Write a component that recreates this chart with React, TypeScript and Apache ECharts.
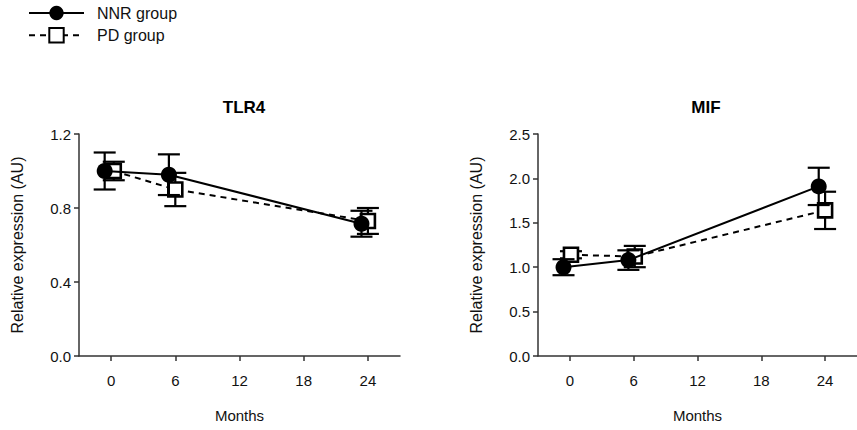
import React, { useEffect, useRef } from "react";
import * as echarts from "echarts";

const monthTicks = [0, 6, 12, 18, 24];
const groupNames = ["NNR group", "PD group"];
const panelTitles = ["TLR4", "MIF"];

// plotted x positions (slightly offset as in the figure)
const tlr4NnrX = [-0.6, 5.4, 23.4];
const tlr4NnrY = [1.0, 0.98, 0.715];
const tlr4NnrErr = [0.1, 0.11, 0.07];
const tlr4PdX = [0.25, 6.0, 24.0];
const tlr4PdY = [1.0, 0.9, 0.73];
const tlr4PdErr = [0.05, 0.09, 0.07];

const mifNnrX = [-0.6, 5.5, 23.4];
const mifNnrY = [1.0, 1.08, 1.91];
const mifNnrErr = [0.09, 0.11, 0.21];
const mifPdX = [0.1, 6.1, 24.0];
const mifPdY = [1.14, 1.12, 1.64];
const mifPdErr = [0.04, 0.12, 0.21];

const yTicksLeft = { max: 1.2, interval: 0.4 };
const yTicksRight = { max: 2.5, interval: 0.5 };

const FONT = "Liberation Sans, Arial, sans-serif";

function pts(xs: number[], ys: number[]) {
  return xs.map((x, i) => [x, ys[i]]);
}
function errPts(xs: number[], ys: number[], es: number[]) {
  return xs.map((x, i) => [x, ys[i] - es[i], ys[i] + es[i]]);
}

function errorSeries(data: number[][], idx: number, z: number) {
  return {
    type: "custom",
    xAxisIndex: idx,
    yAxisIndex: idx,
    z,
    silent: true,
    encode: { x: 0, y: [1, 2] },
    data,
    renderItem: (params: any, api: any) => {
      const x = api.value(0);
      const lo = api.coord([x, api.value(1)]);
      const hi = api.coord([x, api.value(2)]);
      const w = 11;
      const style = { stroke: "#000", lineWidth: 2.2 };
      return {
        type: "group",
        children: [
          { type: "line", shape: { x1: lo[0], y1: lo[1], x2: hi[0], y2: hi[1] }, style },
          { type: "line", shape: { x1: lo[0] - w, y1: lo[1], x2: lo[0] + w, y2: lo[1] }, style },
          { type: "line", shape: { x1: hi[0] - w, y1: hi[1], x2: hi[0] + w, y2: hi[1] }, style },
        ],
      };
    },
  };
}

function nnrLine(data: number[][], idx: number) {
  return {
    name: groupNames[0],
    type: "line",
    xAxisIndex: idx,
    yAxisIndex: idx,
    z: 5,
    data,
    symbol: "circle",
    symbolSize: 16,
    itemStyle: { color: "#000" },
    lineStyle: { color: "#000", width: 2, type: "solid" },
  };
}

function pdLine(data: number[][], idx: number) {
  return {
    name: groupNames[1],
    type: "line",
    xAxisIndex: idx,
    yAxisIndex: idx,
    z: 3,
    data,
    symbol: "rect",
    symbolSize: 14,
    itemStyle: { color: "#fff", borderColor: "#000", borderWidth: 2.6 },
    lineStyle: { color: "#000", width: 2, type: [6, 5] },
  };
}

function xAxis(idx: number) {
  return {
    type: "value",
    gridIndex: idx,
    min: -3,
    max: 27,
    name: "Months",
    nameLocation: "middle",
    nameGap: 52,
    nameTextStyle: { fontFamily: FONT, fontSize: 15, color: "#111" },
    axisLine: { show: true, onZero: false, lineStyle: { color: "#333", width: 1.5 } },
    axisTick: { show: true, length: 5, customValues: monthTicks, lineStyle: { color: "#333", width: 1.5 } },
    axisLabel: { customValues: monthTicks, fontFamily: FONT, fontSize: 15, color: "#111", margin: 17 },
    splitLine: { show: false },
  };
}

function yAxis(idx: number, t: { max: number; interval: number }) {
  return {
    type: "value",
    gridIndex: idx,
    min: 0,
    max: t.max,
    interval: t.interval,
    name: "Relative expression (AU)",
    nameLocation: "middle",
    nameGap: 54,
    nameTextStyle: { fontFamily: FONT, fontSize: 16, color: "#111" },
    axisLine: { show: true, onZero: false, lineStyle: { color: "#333", width: 1.5 } },
    axisTick: { show: true, length: 5, lineStyle: { color: "#333", width: 1.5 } },
    axisLabel: {
      fontFamily: FONT,
      fontSize: 15,
      color: "#111",
      margin: 8,
      formatter: (v: number) => v.toFixed(1),
    },
    splitLine: { show: false },
  };
}

export default function App() {
  const ref = useRef<HTMLDivElement>(null);
  useEffect(() => {
    if (!ref.current) return;
    const chart = echarts.init(ref.current, undefined, { renderer: "svg" });
    chart.setOption({
      animation: false,
      backgroundColor: "#fff",
      title: [
        {
          text: panelTitles[0],
          left: 239,
          top: 94,
          textAlign: "center",
          textStyle: { fontFamily: FONT, fontSize: 17, fontWeight: "bold", color: "#000" },
        },
        {
          text: panelTitles[1],
          left: 701,
          top: 94,
          textAlign: "center",
          textStyle: { fontFamily: FONT, fontSize: 17, fontWeight: "bold", color: "#000" },
        },
      ],
      legend: {
        data: groupNames,
        orient: "vertical",
        left: 23,
        top: 0,
        itemWidth: 55,
        itemHeight: 18,
        itemGap: 6,
        textStyle: { fontFamily: FONT, fontSize: 16, color: "#111", padding: [0, 0, 0, 8] },
      },
      grid: [
        { left: 79, top: 134, width: 321, height: 222 },
        { left: 538, top: 134, width: 322, height: 222 },
      ],
      xAxis: [xAxis(0), xAxis(1)],
      yAxis: [yAxis(0, yTicksLeft), yAxis(1, yTicksRight)],
      series: [
        errorSeries(errPts(tlr4PdX, tlr4PdY, tlr4PdErr), 0, 2),
        pdLine(pts(tlr4PdX, tlr4PdY), 0),
        errorSeries(errPts(tlr4NnrX, tlr4NnrY, tlr4NnrErr), 0, 4),
        nnrLine(pts(tlr4NnrX, tlr4NnrY), 0),
        errorSeries(errPts(mifPdX, mifPdY, mifPdErr), 1, 2),
        pdLine(pts(mifPdX, mifPdY), 1),
        errorSeries(errPts(mifNnrX, mifNnrY, mifNnrErr), 1, 4),
        nnrLine(pts(mifNnrX, mifNnrY), 1),
      ],
    });
    return () => chart.dispose();
  }, []);
  return (
    <div
      ref={ref}
      style={{ position: "absolute", left: 0, top: 0, width: 857, height: 430 }}
    />
  );
}
